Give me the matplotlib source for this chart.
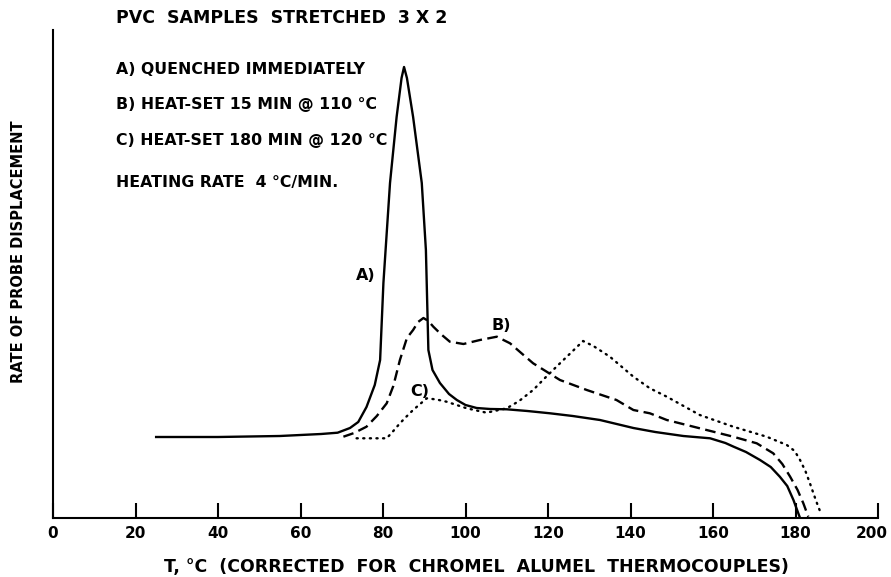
import matplotlib
matplotlib.use("Agg")
import matplotlib.pyplot as plt
from matplotlib.transforms import ScaledTranslation

# Curve A) quenched immediately (solid)
a_x = [25, 40, 55, 65, 69, 72, 74, 76, 78, 79.3, 80.1, 81.7, 83.3, 84.5, 85.1,
       85.8, 87.3, 89.4, 90.4, 91, 92, 93.8, 96, 97.9, 100, 102.7, 106, 110,
       115, 120.5, 126, 132.6, 140.7, 146, 152.8, 159.3, 163, 165, 168, 171.4,
       174, 176.2, 178, 179.5, 181.1]
a_y = [81, 81, 82, 84, 85.3, 90, 96, 111, 133, 158, 235, 335, 401, 440, 451,
       440, 401, 335, 268, 168, 148, 135, 124, 118, 113, 110, 109, 108.7,
       107, 104.7, 102, 98, 90, 86, 82, 79.7, 75, 71.3, 66, 58,
       51, 41.3, 32, 18, 0]

# Curve B) heat-set 15 min @ 110 C (dashed)
b_x = [70.4, 73, 76, 78.5, 80.9, 82.5, 84.1, 85.8, 87.3, 88.5, 89.8, 91, 92.2,
       94, 96.2, 99.5, 103.5, 107.6, 110.8, 113.5, 116.4, 122.9, 129.4, 136.6,
       140.7, 144.7, 148.8, 156.8, 164.9, 170.6, 174.6, 176.8, 178.7, 180.5,
       181.9, 183.1]
b_y = [81.3, 85, 91.3, 102, 114.7, 132, 158, 180, 188, 196, 200, 197, 191.3,
       184, 176.3, 174, 178, 181.3, 174.7, 165, 154.7, 138, 128, 118,
       108, 104.7, 98, 89.7, 81.3, 74.7, 64.7, 54, 41.3, 28, 14.7, 1.3]

# Curve C) heat-set 180 min @ 120 C (dotted)
c_x = [73.6, 77, 80.9, 82.5, 84.1, 85.7, 87.3, 89, 90.6, 93, 95.4, 100.3,
       105.1, 110, 113, 116.4, 119.5, 122.9, 126, 128.5, 131, 135, 140.7,
       144.7, 148.8, 156.8, 164.9, 173, 177.9, 179.8, 181.1, 182.4, 183.5,
       185, 186.3]
c_y = [79.7, 79.7, 79.7, 87, 94.7, 101.5, 108, 114, 119.7, 118.5, 116.3, 109.7,
       105.3, 109.7, 117, 128, 141, 154.7, 167, 177, 172, 161.3, 141.3,
       129.7, 121.3, 103, 91.3, 81.3, 73, 67, 58, 47, 34.7, 17, 3]

x_ticks = [0, 20, 40, 60, 80, 100, 120, 140, 160, 180, 200]

notes = ["A) QUENCHED IMMEDIATELY",
         "B) HEAT-SET 15 MIN @ 110 °C",
         "C) HEAT-SET 180 MIN @ 120 °C",
         "HEATING RATE  4 °C/MIN."]
note_rows = [70, 105, 140, 183]  # pixel rows from the top

W, H = 891, 577
fig = plt.figure(figsize=(W / 100, H / 100), dpi=100)
ax = fig.add_axes([53 / W, (H - 518) / H, (878 - 53) / W, 488 / H])

ax.plot(a_x, a_y, color="black", lw=1.7)
ax.plot(b_x, b_y, color="black", lw=1.7, dashes=(4.5, 2.3))
ax.plot(c_x, c_y, color="black", lw=1.7, linestyle=(0, (0.5, 2.3)),
        dash_capstyle="round")

ax.set_xlim(0, 200)
ax.set_ylim(0, 488)
ax.set_xticks(x_ticks)
ax.set_yticks([])
ax.spines["top"].set_visible(False)
ax.spines["right"].set_visible(False)
ax.spines["left"].set_linewidth(1.5)
ax.spines["bottom"].set_linewidth(1.5)
ax.tick_params(axis="x", direction="in", length=11, width=1.5,
               labelsize=11, pad=6)
for lab in ax.get_xticklabels():
    lab.set_fontweight("bold")
last = ax.get_xticklabels()[-1]
last.set_transform(last.get_transform() + ScaledTranslation(-6 / 100, 0, fig.dpi_scale_trans))

fig.text(476 / W, 1 - 567 / H,
         "T, °C  (CORRECTED  FOR  CHROMEL  ALUMEL  THERMOCOUPLES)",
         fontsize=12.5, fontweight="bold", ha="center", va="center")
fig.text(19 / W, 1 - 252 / H, "RATE OF PROBE DISPLACEMENT", fontsize=10.5,
         fontweight="bold", rotation=90, ha="center", va="center")

fig.text(116 / W, 1 - 18 / H, "PVC  SAMPLES  STRETCHED  3 X 2",
         fontsize=12.5, fontweight="bold", va="center")
for line, row in zip(notes, note_rows):
    fig.text(116 / W, 1 - row / H, line, fontsize=11.3, fontweight="bold",
             va="center")

ax.text(75.9, 243, "A)", fontsize=11.5, fontweight="bold", ha="center", va="center")
ax.text(108.6, 193, "B)", fontsize=11.5, fontweight="bold", ha="center", va="center")
ax.text(89, 127, "C)", fontsize=11.5, fontweight="bold", ha="center", va="center")

fig.savefig("out.png", dpi=100)
